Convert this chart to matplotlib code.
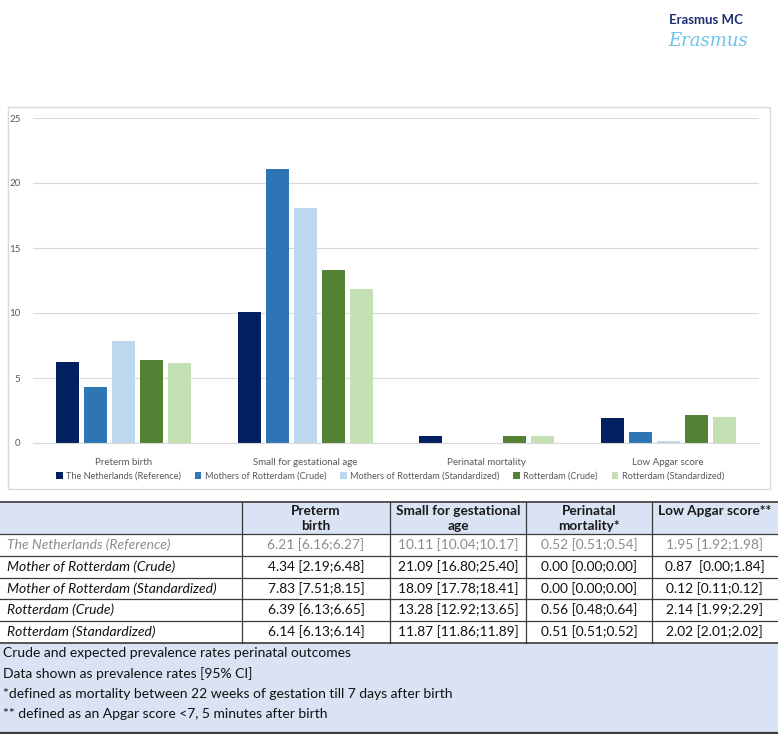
import matplotlib.pyplot as plt
from matplotlib.patches import Rectangle
import numpy as np

W, H = 778, 734

# chart data
CATEGORIES = ["Preterm birth", "Small for gestational age", "Perinatal mortality", "Low Apgar score"]
SERIES = [
    "The Netherlands (Reference)",
    "Mothers of Rotterdam (Crude)",
    "Mothers of Rotterdam (Standardized)",
    "Rotterdam (Crude)",
    "Rotterdam (Standardized)",
]
NL_REF = [6.21, 10.11, 0.52, 1.95]
MOR_CRUDE = [4.34, 21.09, 0.00, 0.87]
MOR_STD = [7.83, 18.09, 0.00, 0.12]
ROT_CRUDE = [6.39, 13.28, 0.56, 2.14]
ROT_STD = [6.14, 11.87, 0.51, 2.02]
COLORS = ["#002060", "#2E75B6", "#BDD7EE", "#548235", "#C5E0B4"]
Y_TICKS = [0, 5, 10, 15, 20, 25]

# table data
COL_HEADERS = ["Preterm\nbirth", "Small for gestational\nage", "Perinatal\nmortality*", "Low Apgar score**"]
ROW_LABELS = [
    "The Netherlands (Reference)",
    "Mother of Rotterdam (Crude)",
    "Mother of Rotterdam (Standardized)",
    "Rotterdam (Crude)",
    "Rotterdam (Standardized)",
]
CELLS = [
    ["6.21 [6.16;6.27]", "10.11 [10.04;10.17]", "0.52 [0.51;0.54]", "1.95 [1.92;1.98]"],
    ["4.34 [2.19;6.48]", "21.09 [16.80;25.40]", "0.00 [0.00;0.00]", "0.87  [0.00;1.84]"],
    ["7.83 [7.51;8.15]", "18.09 [17.78;18.41]", "0.00 [0.00;0.00]", "0.12 [0.11;0.12]"],
    ["6.39 [6.13;6.65]", "13.28 [12.92;13.65]", "0.56 [0.48;0.64]", "2.14 [1.99;2.29]"],
    ["6.14 [6.13;6.14]", "11.87 [11.86;11.89]", "0.51 [0.51;0.52]", "2.02 [2.01;2.02]"],
]
FOOTNOTES = [
    "Crude and expected prevalence rates perinatal outcomes",
    "Data shown as prevalence rates [95% CI]",
    "*defined as mortality between 22 weeks of gestation till 7 days after birth",
    "** defined as an Apgar score <7, 5 minutes after birth",
]

plt.rcParams["font.family"] = ["Lato", "DejaVu Sans"]

fig = plt.figure(figsize=(W / 100, H / 100), dpi=100)

# overlay in pixel coordinates for frame, logo and table
bg = fig.add_axes([0, 0, 1, 1])
bg.set_xlim(0, W)
bg.set_ylim(H, 0)
bg.axis("off")

# chart frame
bg.add_patch(Rectangle((8, 107), 762, 382, fill=False, edgecolor="#d9d9d9", lw=1))

# logo
bg.text(706, 20, "Erasmus MC", ha="center", va="center", fontsize=9.5,
        fontweight="bold", color="#1d2f6f")
bg.text(708, 41, "Erasmus", ha="center", va="center", fontsize=13,
        style="italic", color="#6cc3e8", family="DejaVu Serif")

# bar chart
x0, x1, y0, y25 = 33, 759, 443, 118
ax = fig.add_axes([x0 / W, 1 - y0 / H, (x1 - x0) / W, (y0 - y25) / H])
series_values = [NL_REF, MOR_CRUDE, MOR_STD, ROT_CRUDE, ROT_STD]
x = np.arange(len(CATEGORIES))
step, width = 0.154, 0.127
for i, (name, vals, col) in enumerate(zip(SERIES, series_values, COLORS)):
    ax.bar(x + (i - 2) * step, vals, width, color=col, label=name, zorder=3)
ax.set_xlim(-0.5, len(CATEGORIES) - 0.5)
ax.set_ylim(0, 25)
ax.set_yticks(Y_TICKS)
ax.set_xticks(x)
ax.set_xticklabels(CATEGORIES)
ax.tick_params(axis="both", length=0, labelsize=7, colors="#595959")
ax.tick_params(axis="y", pad=9)
ax.tick_params(axis="x", pad=11)
ax.grid(axis="y", color="#d9d9d9", lw=0.8, zorder=0)
for s in ["top", "right", "left"]:
    ax.spines[s].set_visible(False)
ax.spines["bottom"].set_color("#d9d9d9")
ax.spines["bottom"].set_zorder(4)

fig.legend(loc="center", bbox_to_anchor=(390 / W, 1 - 476 / H), ncol=5, frameon=False,
           fontsize=6.6, handlelength=0.7, handleheight=0.7, handletextpad=0.4,
           columnspacing=1.5, labelcolor="#595959")

# table
col_edges = [0, 242, 390, 526, 652, 777]
row_edges = [502, 534, 556, 578, 599, 621, 643]
foot_bottom = 733
dark = "#3a3a3a"
bg.add_patch(Rectangle((0, row_edges[0]), W, row_edges[1] - row_edges[0],
                       facecolor="#dae3f3", edgecolor="none"))
bg.add_patch(Rectangle((0, row_edges[-1]), W, foot_bottom - row_edges[-1],
                       facecolor="#dae3f3", edgecolor="none"))
for y in row_edges:
    bg.plot([0, W], [y, y], color=dark, lw=1.2 if y in (row_edges[0], row_edges[-1]) else 0.9)
bg.plot([0, W], [foot_bottom, foot_bottom], color=dark, lw=1.6)
for cx in col_edges[1:-1]:
    bg.plot([cx, cx], [row_edges[0], row_edges[-1]], color=dark, lw=0.9)

for j, head in enumerate(COL_HEADERS):
    cx = (col_edges[j + 1] + col_edges[j + 2]) / 2
    bg.text(cx, row_edges[0] + 3, head, ha="center", va="top", fontsize=9.8,
            fontweight="bold", color="#1a1a1a", linespacing=1.3)

for r, (lab, row) in enumerate(zip(ROW_LABELS, CELLS)):
    cy = (row_edges[r + 1] + row_edges[r + 2]) / 2
    col = "#8c8c8c" if r == 0 else "#111111"
    bg.text(7, cy, lab, ha="left", va="center", fontsize=10, style="italic", color=col)
    for j, val in enumerate(row):
        cx = (col_edges[j + 1] + col_edges[j + 2]) / 2
        bg.text(cx, cy, val, ha="center", va="center", fontsize=9.9, color=col)

for k, line in enumerate(FOOTNOTES):
    bg.text(3, row_edges[-1] + 10 + k * 20.5, line, ha="left", va="center",
            fontsize=10, color="#111111")

fig.savefig("out.png", dpi=100)
